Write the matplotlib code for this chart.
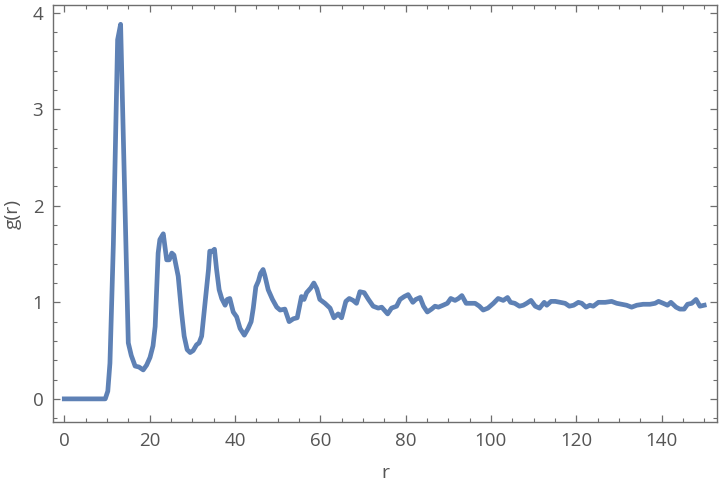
import numpy as np
import matplotlib
matplotlib.use("Agg")
import matplotlib.pyplot as plt
from matplotlib.ticker import MultipleLocator

# radial distribution function g(r)
r = [0, 9.6, 10.2, 10.7, 11.5, 12.5, 13.2, 15.0, 15.7, 16.6, 17.5, 18.5, 19.3,
     20.1, 20.8, 21.3, 22.0, 22.4, 23.2, 24.0, 24.6, 25.2, 25.7, 26.7, 27.5,
     28.1, 28.8, 29.5, 30.2, 31.0, 31.6, 32.2, 33.0, 33.8, 34.1, 34.8, 35.2,
     35.7, 36.3, 36.9, 37.7, 38.2, 38.8, 39.6, 40.4, 41.2, 42.2, 43.1, 43.8,
     44.3, 44.9, 45.5, 46.0, 46.6, 47.0, 47.8, 48.8, 49.8, 50.6, 51.7, 52.7,
     53.7, 54.6, 55.6, 56.2, 56.8, 57.8, 58.5, 59.2, 59.9, 61.1, 62.3, 63.2,
     64.2, 65.0, 66.0, 66.8, 67.7, 68.5, 69.3, 70.3, 71.3, 72.4, 73.6, 74.4,
     75.8, 76.7, 77.9, 78.7, 79.7, 80.6, 81.7, 82.4, 83.4, 84.2, 85.1, 86.1,
     86.9, 87.7, 88.8, 89.8, 90.6, 91.6, 92.4, 93.2, 94.2, 95.1, 96.3, 97.3,
     98.2, 99.3, 100.6, 101.7, 102.9, 103.9, 104.6, 105.6, 106.7, 107.6, 108.4,
     109.4, 110.4, 111.4, 112.5, 113.1, 114.1, 115.1, 116.3, 117.4, 118.4,
     119.4, 120.5, 121.3, 122.3, 123.2, 124.0, 125.2, 126.8, 128.3, 129.5,
     130.7, 131.8, 133.0, 134.2, 135.7, 137.3, 138.5, 139.3, 140.4, 141.4,
     142.2, 143.4, 144.3, 145.3, 146.1, 147.1, 148.1, 149.0, 150.0]
g = [0, 0, 0.08, 0.37, 1.6, 3.72, 3.88, 0.58, 0.45, 0.34, 0.33, 0.30, 0.35,
     0.43, 0.55, 0.75, 1.51, 1.65, 1.71, 1.44, 1.44, 1.51, 1.49, 1.27, 0.89,
     0.65, 0.51, 0.48, 0.50, 0.56, 0.58, 0.65, 0.99, 1.34, 1.53, 1.53, 1.55,
     1.34, 1.13, 1.04, 0.97, 1.03, 1.04, 0.90, 0.85, 0.73, 0.66, 0.73, 0.80,
     0.94, 1.16, 1.22, 1.30, 1.34, 1.28, 1.13, 1.03, 0.95, 0.92, 0.93, 0.80,
     0.83, 0.84, 1.06, 1.03, 1.10, 1.15, 1.20, 1.14, 1.03, 0.99, 0.94, 0.84,
     0.88, 0.84, 1.01, 1.04, 1.02, 0.99, 1.11, 1.10, 1.03, 0.96, 0.94, 0.95,
     0.88, 0.94, 0.96, 1.03, 1.06, 1.08, 1.00, 1.03, 1.05, 0.96, 0.90, 0.93,
     0.96, 0.95, 0.97, 0.99, 1.04, 1.02, 1.04, 1.07, 0.99, 0.99, 0.99, 0.96,
     0.92, 0.94, 0.99, 1.04, 1.02, 1.05, 1.00, 0.99, 0.96, 0.97, 0.99,
     1.02, 0.96, 0.94, 1.00, 0.97, 1.01, 1.01, 1.00, 0.99, 0.96,
     0.97, 1.00, 0.99, 0.95, 0.97, 0.96, 1.00, 1.00, 1.01, 0.99,
     0.98, 0.97, 0.95, 0.97, 0.98, 0.98, 0.99, 1.01, 0.99, 0.97,
     1.00, 0.95, 0.93, 0.93, 0.98, 0.99, 1.03, 0.96, 0.97]

plt.rcParams["font.family"] = ["Open Sans", "DejaVu Sans"]

fig = plt.figure(figsize=(7.2, 4.84), dpi=100)
ax = fig.add_axes([0.0736, 0.128, 0.9222, 0.8617])

ax.plot(r, g, color="#5E81B5", lw=3.4, solid_joinstyle="round")

ax.set_xlim(-2.65, 153)
ax.set_ylim(-0.24, 4.08)
ax.xaxis.set_major_locator(MultipleLocator(20))
ax.xaxis.set_minor_locator(MultipleLocator(5))
ax.yaxis.set_major_locator(MultipleLocator(1))
ax.yaxis.set_minor_locator(MultipleLocator(0.2))

frame = "#6e6e6e"
for s in ax.spines.values():
    s.set_color(frame)
    s.set_linewidth(1.0)
ax.tick_params(which="both", direction="in", top=True, right=True,
               color=frame, labelcolor="#555555", labelsize=13.5)
ax.tick_params(which="major", length=5, width=0.9, pad=7)
ax.tick_params(which="minor", length=3, width=0.8)
# no labels on top/right ticks
ax.tick_params(labeltop=False, labelright=False)

ax.set_xlabel("r", fontsize=14, color="#555555", labelpad=10)
ax.set_ylabel("g(r)", fontsize=14, color="#555555", labelpad=8)

fig.savefig("out.png", dpi=100)
